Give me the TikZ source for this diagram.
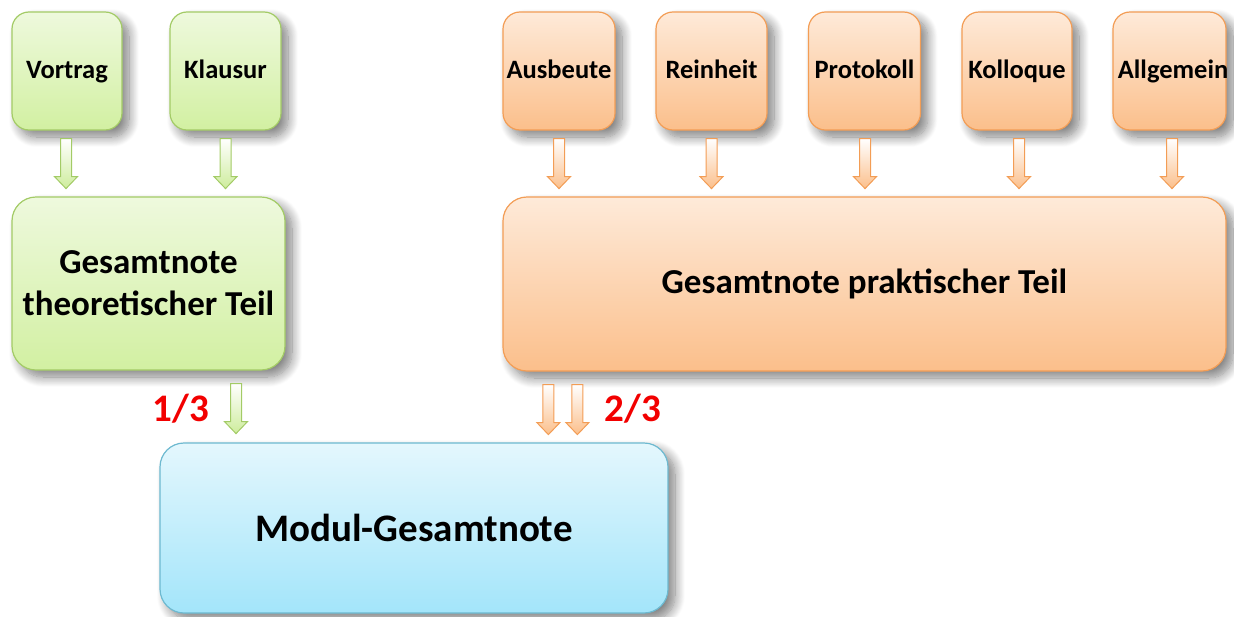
\documentclass[tikz,border=0pt]{standalone}
\usepackage{fontspec}
\setmainfont{Carlito}
\usetikzlibrary{shadows.blur,calc}
\definecolor{gTop}{HTML}{EEF9DD}
\definecolor{gBot}{HTML}{D2F0A2}
\definecolor{gLine}{HTML}{A3CB66}
\definecolor{oTop}{HTML}{FEEAD9}
\definecolor{oBot}{HTML}{FBBF8B}
\definecolor{oLine}{HTML}{F39D55}
\definecolor{bTop}{HTML}{E4F7FD}
\definecolor{bBot}{HTML}{A3E5FA}
\definecolor{bLine}{HTML}{6DB9D0}
\definecolor{labred}{HTML}{F20000}
\tikzset{
  base/.style={line width=1.2pt, align=center, font=\bfseries, inner sep=2pt,
    blur shadow={shadow xshift=7pt, shadow yshift=-7pt, shadow blur radius=10pt, shadow blur steps=12, shadow opacity=50}},
  smallbox/.style={base, rounded corners=17pt, minimum height=118pt, text height=18pt, text depth=4pt, font=\fontsize{26.5}{30}\selectfont\bfseries},
  bigbox/.style={base, rounded corners=24pt, font=\fontsize{35}{42}\selectfont\bfseries},
  greenbox/.style={draw=gLine, top color=gTop, bottom color=gBot},
  orangebox/.style={draw=oLine, top color=oTop, bottom color=oBot},
  bluebox/.style={draw=bLine, top color=bTop, bottom color=bBot},
  garrow/.style={draw=gLine, line width=1pt, top color=white, bottom color=gBot!90!gLine},
  oarrow/.style={draw=oLine, line width=1pt, top color=white, bottom color=oBot},
  ratio/.style={text=labred, font=\fontsize{39}{42}\selectfont\bfseries},
  pics/blockarrow/.style={code={
    \draw[#1] (-5.5,0) -- (5.5,0) -- (5.5,38) -- (11.5,38) -- (0,50) -- (-11.5,38) -- (-5.5,38) -- cycle;}}
}
\begin{document}
\begin{tikzpicture}[x=1pt,y=-1pt]
\useasboundingbox (0,0) rectangle (1234,616);
% top row
\node[smallbox,greenbox,minimum width=110pt] (vortrag) at (67,71) {Vortrag};
\node[smallbox,greenbox,minimum width=111pt] (klausur) at (225.5,71) {Klausur};
\node[smallbox,orangebox,minimum width=112pt,inner sep=0pt] (ausbeute) at (559,71) {Ausbeute};
\node[smallbox,orangebox,minimum width=111pt] (reinheit) at (711.5,71) {Reinheit};
\node[smallbox,orangebox,minimum width=112pt] (protokoll) at (864.5,71) {Protokoll};
\node[smallbox,orangebox,minimum width=110pt] (kolloque) at (1017,71) {Kolloque};
\node[smallbox,orangebox,minimum width=113pt,inner sep=0pt] (allgemein) at (1169.5,71) {\makebox[113pt]{\hspace{6pt}Allgemein\hss}};
% middle row
\node[bigbox,greenbox,minimum width=273pt,minimum height=173pt] (theo) at (148.5,283.5) {Gesamtnote\\theoretischer Teil};
\node[bigbox,orangebox,minimum width=723pt,minimum height=174pt] (prak) at (864.5,284) {Gesamtnote praktischer Teil};
% bottom
\node[bigbox,bluebox,minimum width=508pt,minimum height=170pt,font=\fontsize{39}{44}\selectfont\bfseries] (modul) at (414,528) {Modul-Gesamtnote};
% arrows top
\pic at ($(vortrag.south)+(-1,8)$) {blockarrow=garrow};
\pic at ($(klausur.south)+(0,8)$) {blockarrow=garrow};
\pic at ($(ausbeute.south)+(0,8)$) {blockarrow=oarrow};
\pic at ($(reinheit.south)+(0,8)$) {blockarrow=oarrow};
\pic at ($(protokoll.south)+(0.5,8)$) {blockarrow=oarrow};
\pic at ($(kolloque.south)+(2,8)$) {blockarrow=oarrow};
\pic at ($(allgemein.south)+(2.5,8)$) {blockarrow=oarrow};
% arrows bottom
\pic at ($(theo.south)+(87.5,13)$) {blockarrow=garrow};
\pic at ($(prak.south west)+(46,13)$) {blockarrow=oarrow};
\pic at ($(prak.south west)+(75,13)$) {blockarrow=oarrow};
% labels
\node[ratio] (l13) at (181,409) {1/3};
\node[ratio] (l23) at (633,409) {2/3};
\end{tikzpicture}
\end{document}
